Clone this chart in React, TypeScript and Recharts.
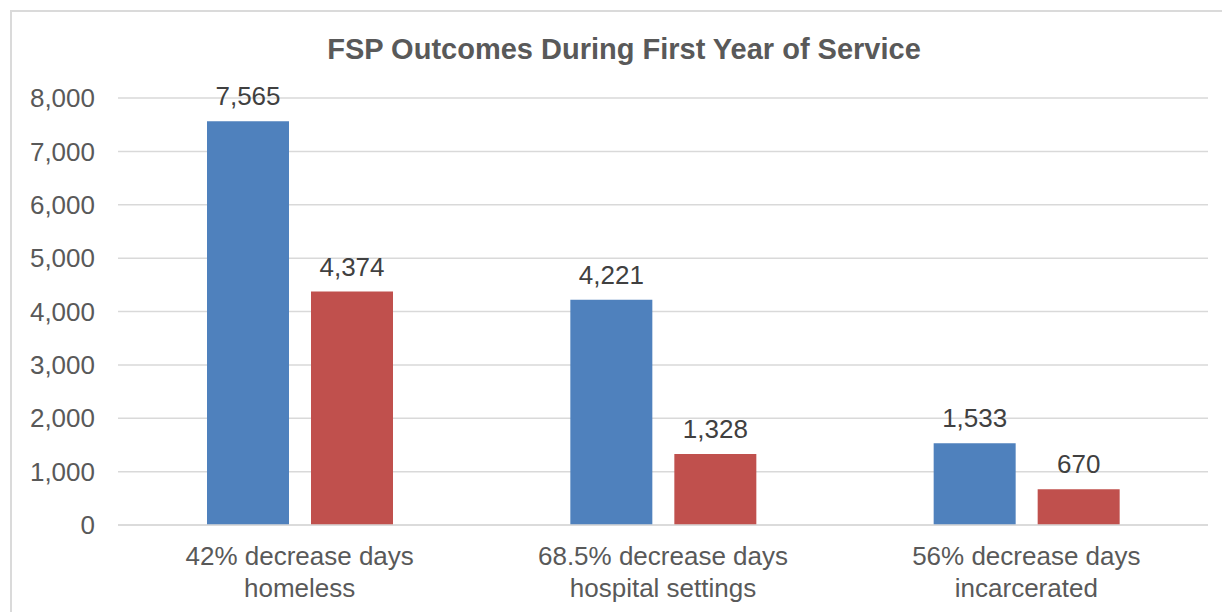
import React from "react";
import { BarChart, Bar, XAxis, YAxis, CartesianGrid, LabelList } from "recharts";

const categories = [
  "42% decrease days\nhomeless",
  "68.5% decrease days\nhospital settings",
  "56% decrease days\nincarcerated",
];
const beforeValues = [7565, 4221, 1533];
const duringValues = [4374, 1328, 670];
const yTicks = [0, 1000, 2000, 3000, 4000, 5000, 6000, 7000, 8000];
const title = "FSP Outcomes During First Year of Service";

const data = categories.map((c, i) => ({
  category: c,
  before: beforeValues[i],
  during: duringValues[i],
}));

const fmt = (v: any) => Number(v).toLocaleString("en-US");

const CategoryTick = (props: any) => {
  const { x, y, payload } = props;
  const lines = String(payload.value).split("\n");
  return (
    <text x={x} y={y} textAnchor="middle" fill="#595959" fontSize={26}>
      {lines.map((l: string, i: number) => (
        <tspan key={i} x={x} y={y + 40 + i * 32}>
          {l}
        </tspan>
      ))}
    </text>
  );
};

export default function App() {
  return (
    <div
      style={{
        position: "fixed",
        top: 0,
        left: 0,
        width: 1222,
        height: 612,
        overflow: "hidden",
        background: "#ffffff",
        fontFamily: "'Liberation Sans', Arial, sans-serif",
      }}
    >
      <div
        style={{
          position: "absolute",
          left: 10,
          top: 10,
          width: 1400,
          height: 800,
          border: "2px solid #dadada",
          boxSizing: "border-box",
        }}
      />
      <div
        style={{
          position: "absolute",
          top: 34,
          left: 0,
          width: 1248,
          textAlign: "center",
          fontSize: 29,
          lineHeight: "30px",
          fontWeight: "bold",
          color: "#595959",
          whiteSpace: "nowrap",
        }}
      >
        {title}
      </div>
      <div style={{ position: "absolute", top: 0, left: 0 }}>
        <BarChart
          width={1222}
          height={612}
          data={data}
          margin={{ top: 98, right: 14, bottom: 0, left: 18 }}
          barSize={82}
          barGap={22}
        >
          <CartesianGrid vertical={false} stroke="#d9d9d9" strokeWidth={1.5} />
          <XAxis
            dataKey="category"
            height={87}
            interval={0}
            tickLine={false}
            tickSize={0}
            tickMargin={0}
            axisLine={{ stroke: "#d9d9d9", strokeWidth: 1.5 }}
            tick={<CategoryTick />}
          />
          <YAxis
            width={100}
            domain={[0, 8000]}
            ticks={yTicks}
            tickFormatter={fmt}
            axisLine={false}
            tickLine={false}
            tickSize={0}
            tickMargin={23}
            tick={{ fill: "#595959", fontSize: 26 }}
          />
          <Bar dataKey="before" fill="#4f81bd" isAnimationActive={false}>
            <LabelList
              dataKey="before"
              position="top"
              offset={16}
              formatter={fmt}
              fill="#404040"
              fontSize={26}
            />
          </Bar>
          <Bar dataKey="during" fill="#c0504d" isAnimationActive={false}>
            <LabelList
              dataKey="during"
              position="top"
              offset={16}
              formatter={fmt}
              fill="#404040"
              fontSize={26}
            />
          </Bar>
        </BarChart>
      </div>
    </div>
  );
}
